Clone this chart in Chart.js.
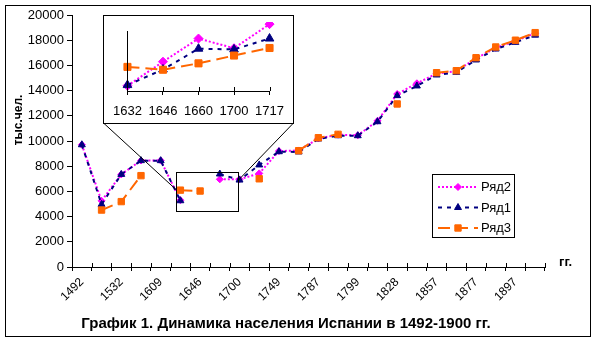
<!DOCTYPE html>
<html>
<head>
<meta charset="utf-8">
<script src="https://cdn.jsdelivr.net/npm/chart.js@4.4.0/dist/chart.umd.min.js"></script>
<style>
  body { margin: 0; background: #fff; }
  #wrap { position: relative; width: 598px; height: 343px; }
  #main { position: absolute; left: 0; top: 0; }
  #frame { position: absolute; left: 5px; top: 5px; width: 586px; height: 332px; border: 1px solid #000; box-sizing: border-box; pointer-events: none; }
  #insetBox { position: absolute; left: 103px; top: 15px; width: 191px; height: 109px; border: 1px solid #000; box-sizing: border-box; background: #fff; }
  #inset { position: absolute; left: 0; top: 0; }
</style>
</head>
<body>
<div id="wrap">
  <canvas id="main" width="598" height="343"></canvas>
  <div id="frame"></div>
  <div id="insetBox"><canvas id="inset" width="189" height="107"></canvas></div>
</div>
<script>
// main chart categories (only every other one gets a label on the axis)
var years = ["1492", "1500", "1532", "1594", "1609", "1632", "1646", "1660", "1700", "1717", "1749", "1768",
             "1787", "1797", "1799", "1822", "1828", "1833", "1857", "1860", "1877", "1887", "1897", "1900"];

var ryad2 = [9700, 5250, 7350, 8450, 8450, 5300, null, 6960, 6960, 7430, 9200, 9250,
             10200, 10500, 10450, 11600, 13730, 14580, 15350, 15550, 16550, 17400, 17950, 18550];
var ryad1 = [9700, 4970, 7350, 8440, 8440, 5260, null, 7380, 6900, 8100, 9150, 9130,
             10160, 10420, 10420, 11530, 13600, 14370, 15240, 15450, 16430, 17300, 17830, 18400];
var ryad3 = [null, 4520, 5190, 7250, null, 6100, 6030, null, null, 7000, null, 9230,
             10260, 10530, null, null, 12940, null, 15420, 15580, 16610, 17460, 18000, 18600];

// inset (zoomed part 1632-1717)
var insetYears = ["1632", "1646", "1660", "1700", "1717"];
var insetRyad2 = [5300, 6320, 7300, 6890, 7910];
var insetRyad1 = [5330, 5990, 6870, 6840, 7300];
var insetRyad3 = [6100, 5980, 6250, 6580, 6900];
var insetAxisTop = 7600;

var FONT = '"Liberation Sans", Arial, sans-serif';
Chart.defaults.font.family = FONT;
Chart.defaults.color = "#000";

function makeSets(d2, d1, d3, big) {
  return [
    { label: "Ряд2", data: d2, borderColor: "#FF00FF", backgroundColor: "#FF00FF", borderWidth: 2,
      borderDash: [2, 2], pointStyle: "rectRot", pointRadius: big ? 4.5 : 3.5, pointBorderWidth: 1, order: 3 },
    { label: "Ряд1", data: d1, borderColor: "#000080", backgroundColor: "#000080", borderWidth: 2,
      borderDash: [4, 5], pointStyle: "triangle", pointRadius: big ? 5 : 4, pointBorderWidth: 1, order: 2 },
    { label: "Ряд3", data: d3, borderColor: "#FF6600", backgroundColor: "#FF6600", borderWidth: 2,
      borderDash: [12, 6], pointStyle: "rect", pointRadius: big ? 5 : 4.5, pointBorderWidth: 1, order: 1 }
  ];
}

// small tick marks above the x axis (Excel style crossing ticks)
var crossTicks = {
  id: "crossTicks",
  afterDraw(chart) {
    var xs = chart.scales.x, ctx = chart.ctx, y0 = chart.chartArea.bottom;
    var off = xs.options.offset;
    var n = off ? xs.ticks.length + 1 : xs.ticks.length;
    ctx.save();
    ctx.strokeStyle = "#000";
    ctx.lineWidth = 1;
    ctx.beginPath();
    for (var i = 0; i < n; i++) {
      var px = Math.round(xs.getPixelForValue(off ? i - 0.5 : i)) + 0.5;
      ctx.moveTo(px, y0 - 4);
      ctx.lineTo(px, y0);
    }
    ctx.stroke();
    ctx.restore();
  }
};

// inset y axis line, stops at insetAxisTop (points may go above it)
var insetAxis = {
  id: "insetAxis",
  afterDraw(chart) {
    var ys = chart.scales.y, ctx = chart.ctx;
    var x = Math.round(chart.chartArea.left) + 0.5;
    ctx.save();
    ctx.strokeStyle = "#000";
    ctx.lineWidth = 1;
    ctx.beginPath();
    ctx.moveTo(x, Math.round(ys.getPixelForValue(insetAxisTop)));
    ctx.lineTo(x, chart.chartArea.bottom + 4);
    ctx.stroke();
    ctx.restore();
  }
};

// texts, zoom box, connectors and the legend
var decor = {
  id: "decor",
  afterDraw(chart) {
    var ctx = chart.ctx, xs = chart.scales.x, ys = chart.scales.y;
    ctx.save();
    ctx.fillStyle = "#000";

    ctx.font = "bold 15px " + FONT;
    ctx.textAlign = "center";
    ctx.textBaseline = "middle";
    ctx.fillText("График 1. Динамика населения Испании в 1492-1900 гг.", 286, 324);

    ctx.font = "bold 13px " + FONT;
    ctx.textAlign = "left";
    ctx.fillText("гг.", 559, 262);

    ctx.save();
    ctx.translate(19, 120);
    ctx.rotate(-Math.PI / 2);
    ctx.font = "bold 12px " + FONT;
    ctx.textAlign = "center";
    ctx.fillText("тыс.чел.", 0, 0);
    ctx.restore();

    // zoom box around 1632-1700
    var bx1 = Math.round(xs.getPixelForValue(4.78)) + 0.5, bx2 = Math.round(xs.getPixelForValue(7.92)) + 0.5;
    var by1 = Math.round(ys.getPixelForValue(7540)) + 0.5, by2 = Math.round(ys.getPixelForValue(4440)) + 0.5;
    ctx.strokeStyle = "#000";
    ctx.lineWidth = 1;
    ctx.strokeRect(bx1, by1, bx2 - bx1, by2 - by1);
    ctx.beginPath();
    ctx.moveTo(103.5, 123);
    ctx.lineTo(bx1, ys.getPixelForValue(6110));
    ctx.moveTo(293.5, 123);
    ctx.lineTo(bx2, ys.getPixelForValue(6900));
    ctx.stroke();

    // legend
    var lx = 432.5, ly = 174.5, lw = 82, lh = 63;
    ctx.fillStyle = "#fff";
    ctx.fillRect(lx, ly, lw, lh);
    ctx.strokeRect(lx, ly, lw, lh);
    var rows = [187, 207.5, 228];
    [0, 1, 2].forEach(function (di, k) {
      var ds = chart.data.datasets[di];
      var y = rows[k];
      ctx.save();
      ctx.strokeStyle = ds.borderColor;
      ctx.lineWidth = ds.borderWidth;
      ctx.setLineDash(ds.borderDash);
      ctx.beginPath();
      ctx.moveTo(438, y);
      ctx.lineTo(478, y);
      ctx.stroke();
      ctx.setLineDash([]);
      ctx.fillStyle = ds.backgroundColor;
      ctx.lineWidth = 1;
      Chart.helpers.drawPoint(ctx, { pointStyle: ds.pointStyle, radius: ds.pointRadius, borderWidth: 1, rotation: 0 }, 458, y);
      ctx.restore();
      ctx.fillStyle = "#000";
      ctx.font = "13px " + FONT;
      ctx.textAlign = "left";
      ctx.textBaseline = "middle";
      ctx.fillText(ds.label, 481, y + 0.5);
    });
    ctx.restore();
  }
};

new Chart(document.getElementById("main"), {
  type: "line",
  data: { labels: years, datasets: makeSets(ryad2, ryad1, ryad3, false) },
  options: {
    responsive: false,
    animation: false,
    spanGaps: false,
    layout: { padding: { left: 0, top: 15, right: 53, bottom: 0 } },
    plugins: { legend: { display: false }, tooltip: { enabled: false } },
    scales: {
      x: {
        offset: true,
        grid: { offset: true, drawOnChartArea: false, tickLength: 4, color: "#000" },
        border: { color: "#000" },
        ticks: {
          autoSkip: false, minRotation: 45, maxRotation: 45, padding: 4,
          font: { size: 12 },
          callback: function (v, i) { return i % 2 === 0 ? this.getLabelForValue(v) : ""; }
        },
        afterFit: function (s) { s.height = 76; }
      },
      y: {
        min: 0, max: 20000,
        ticks: { stepSize: 2000, padding: 3, font: { size: 13 }, callback: function (v) { return String(v); } },
        grid: { drawOnChartArea: false, tickLength: 5, color: "#000" },
        border: { color: "#000" },
        afterFit: function (s) { s.width = 72; }
      }
    }
  },
  plugins: [crossTicks, decor]
});

new Chart(document.getElementById("inset"), {
  type: "line",
  data: { labels: insetYears, datasets: makeSets(insetRyad2, insetRyad1, insetRyad3, true) },
  options: {
    responsive: false,
    animation: false,
    layout: { padding: { left: 0, top: 4.3, right: 16, bottom: 0 } },
    plugins: { legend: { display: false }, tooltip: { enabled: false } },
    scales: {
      x: {
        offset: false,
        grid: { drawOnChartArea: false, tickLength: 4, color: "#000" },
        border: { color: "#000" },
        ticks: { autoSkip: false, maxRotation: 0, padding: 9, font: { size: 13 } },
        afterFit: function (s) { s.height = 32; }
      },
      y: {
        min: 5080, max: 8000,
        ticks: { display: false },
        grid: { drawOnChartArea: false, drawTicks: false },
        border: { display: false },
        afterFit: function (s) { s.width = 16; }
      }
    }
  },
  plugins: [crossTicks, insetAxis]
});
</script>
</body>
</html>
